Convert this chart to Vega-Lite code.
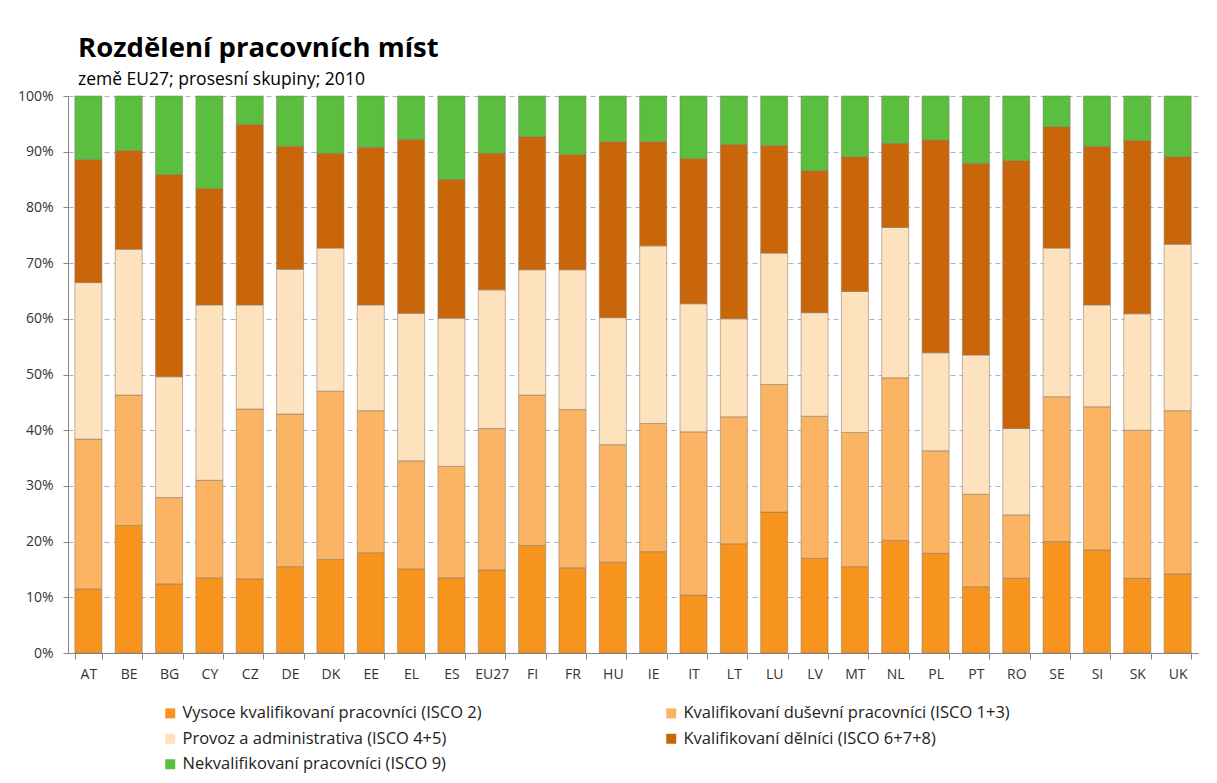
{
  "$schema": "https://vega.github.io/schema/vega-lite/v6.json",
  "width": 1130,
  "height": 557,
  "autosize": "none",
  "padding": {"left": 68, "top": 96, "right": 19, "bottom": 130},
  "background": "white",
  "title": {
    "text": "Rozdělení pracovních míst",
    "subtitle": "země EU27; prosesní skupiny; 2010",
    "anchor": "start",
    "frame": "group",
    "dx": 10,
    "offset": 1,
    "font": "Open Sans",
    "fontSize": 27.5,
    "fontWeight": "bold",
    "color": "#000000",
    "subtitleFont": "Open Sans",
    "subtitleFontSize": 17.5,
    "subtitleColor": "#000000",
    "subtitlePadding": 8
  },
  "data": {
    "values": [
      {"zeme": "AT", "a_isco2": 11.5, "b_isco13": 26.9, "c_isco45": 28.1, "d_isco678": 22.1, "e_isco9": 11.4},
      {"zeme": "BE", "a_isco2": 22.9, "b_isco13": 23.4, "c_isco45": 26.2, "d_isco678": 17.7, "e_isco9": 9.8},
      {"zeme": "BG", "a_isco2": 12.4, "b_isco13": 15.5, "c_isco45": 21.7, "d_isco678": 36.3, "e_isco9": 14.1},
      {"zeme": "CY", "a_isco2": 13.5, "b_isco13": 17.5, "c_isco45": 31.5, "d_isco678": 20.9, "e_isco9": 16.6},
      {"zeme": "CZ", "a_isco2": 13.3, "b_isco13": 30.5, "c_isco45": 18.7, "d_isco678": 32.4, "e_isco9": 5.1},
      {"zeme": "DE", "a_isco2": 15.5, "b_isco13": 27.4, "c_isco45": 26.0, "d_isco678": 22.1, "e_isco9": 9.0},
      {"zeme": "DK", "a_isco2": 16.8, "b_isco13": 30.2, "c_isco45": 25.7, "d_isco678": 17.0, "e_isco9": 10.3},
      {"zeme": "EE", "a_isco2": 18.0, "b_isco13": 25.5, "c_isco45": 19.0, "d_isco678": 28.3, "e_isco9": 9.2},
      {"zeme": "EL", "a_isco2": 15.1, "b_isco13": 19.4, "c_isco45": 26.5, "d_isco678": 31.2, "e_isco9": 7.8},
      {"zeme": "ES", "a_isco2": 13.5, "b_isco13": 20.0, "c_isco45": 26.6, "d_isco678": 24.9, "e_isco9": 15.0},
      {"zeme": "EU27", "a_isco2": 14.9, "b_isco13": 25.4, "c_isco45": 24.9, "d_isco678": 24.5, "e_isco9": 10.3},
      {"zeme": "FI", "a_isco2": 19.3, "b_isco13": 27.0, "c_isco45": 22.5, "d_isco678": 23.9, "e_isco9": 7.3},
      {"zeme": "FR", "a_isco2": 15.3, "b_isco13": 28.4, "c_isco45": 25.1, "d_isco678": 20.7, "e_isco9": 10.5},
      {"zeme": "HU", "a_isco2": 16.3, "b_isco13": 21.1, "c_isco45": 22.8, "d_isco678": 31.6, "e_isco9": 8.2},
      {"zeme": "IE", "a_isco2": 18.2, "b_isco13": 23.0, "c_isco45": 31.9, "d_isco678": 18.7, "e_isco9": 8.2},
      {"zeme": "IT", "a_isco2": 10.4, "b_isco13": 29.3, "c_isco45": 23.0, "d_isco678": 26.1, "e_isco9": 11.2},
      {"zeme": "LT", "a_isco2": 19.6, "b_isco13": 22.8, "c_isco45": 17.6, "d_isco678": 31.3, "e_isco9": 8.7},
      {"zeme": "LU", "a_isco2": 25.3, "b_isco13": 22.9, "c_isco45": 23.6, "d_isco678": 19.3, "e_isco9": 8.9},
      {"zeme": "LV", "a_isco2": 17.0, "b_isco13": 25.5, "c_isco45": 18.6, "d_isco678": 25.5, "e_isco9": 13.4},
      {"zeme": "MT", "a_isco2": 15.5, "b_isco13": 24.1, "c_isco45": 25.3, "d_isco678": 24.2, "e_isco9": 10.9},
      {"zeme": "NL", "a_isco2": 20.2, "b_isco13": 29.2, "c_isco45": 27.0, "d_isco678": 15.1, "e_isco9": 8.5},
      {"zeme": "PL", "a_isco2": 17.9, "b_isco13": 18.4, "c_isco45": 17.6, "d_isco678": 38.2, "e_isco9": 7.9},
      {"zeme": "PT", "a_isco2": 11.9, "b_isco13": 16.6, "c_isco45": 25.0, "d_isco678": 34.4, "e_isco9": 12.1},
      {"zeme": "RO", "a_isco2": 13.4, "b_isco13": 11.4, "c_isco45": 15.5, "d_isco678": 48.1, "e_isco9": 11.6},
      {"zeme": "SE", "a_isco2": 20.0, "b_isco13": 26.0, "c_isco45": 26.7, "d_isco678": 21.8, "e_isco9": 5.5},
      {"zeme": "SI", "a_isco2": 18.5, "b_isco13": 25.7, "c_isco45": 18.3, "d_isco678": 28.5, "e_isco9": 9.0},
      {"zeme": "SK", "a_isco2": 13.4, "b_isco13": 26.6, "c_isco45": 20.9, "d_isco678": 31.1, "e_isco9": 8.0},
      {"zeme": "UK", "a_isco2": 14.2, "b_isco13": 29.3, "c_isco45": 29.9, "d_isco678": 15.7, "e_isco9": 10.9}
    ]
  },
  "transform": [
    {"fold": ["a_isco2", "b_isco13", "c_isco45", "d_isco678", "e_isco9"], "as": ["skupina", "podil"]}
  ],
  "mark": {"type": "bar", "stroke": "#8a7a6a", "strokeWidth": 1, "strokeOpacity": 0.55},
  "encoding": {
    "x": {
      "field": "zeme",
      "type": "nominal",
      "sort": null,
      "scale": {"paddingInner": 0.33, "paddingOuter": 0.17},
      "axis": {
        "title": null,
        "labelAngle": 0,
        "labelFont": "Open Sans",
        "labelFontSize": 14,
        "labelColor": "#333333",
        "labelPadding": 8,
        "tickBand": "extent",
        "tickSize": 6,
        "tickColor": "#868686",
        "domainColor": "#868686",
        "grid": false
      }
    },
    "y": {
      "field": "podil",
      "type": "quantitative",
      "stack": "normalize",
      "scale": {"domain": [0, 1], "nice": false},
      "axis": {
        "title": null,
        "values": [0, 0.1, 0.2, 0.3, 0.4, 0.5, 0.6, 0.7, 0.8, 0.9, 1],
        "format": ".0%",
        "labelFont": "Open Sans",
        "labelFontSize": 14,
        "labelColor": "#333333",
        "labelPadding": 10,
        "tickSize": 5,
        "tickColor": "#868686",
        "domainColor": "#868686",
        "grid": true,
        "gridColor": "#9db5dc",
        "gridDash": [5, 4],
        "gridWidth": 1
      }
    },
    "color": {
      "field": "skupina",
      "type": "nominal",
      "scale": {
        "domain": ["a_isco2", "b_isco13", "c_isco45", "d_isco678", "e_isco9"],
        "range": ["#f7941e", "#fbb463", "#fee2bd", "#c9660a", "#5abf3f"]
      },
      "legend": {
        "title": null,
        "orient": "none",
        "legendX": 94,
        "legendY": 609,
        "values": ["a_isco2", "c_isco45", "e_isco9", "b_isco13", "d_isco678"],
        "columns": 2,
        "columnPadding": 181,
        "rowPadding": 8.5,
        "padding": 0,
        "symbolType": "square",
        "symbolSize": 100,
        "symbolStrokeWidth": 0,
        "labelFont": "Open Sans",
        "labelFontSize": 16.5,
        "labelColor": "#222222",
        "labelOffset": 4,
        "labelLimit": 600,
        "labelExpr": "{'a_isco2': 'Vysoce kvalifikovaní pracovníci (ISCO 2)', 'b_isco13': 'Kvalifikovaní duševní pracovníci (ISCO 1+3)', 'c_isco45': 'Provoz a administrativa (ISCO 4+5)', 'd_isco678': 'Kvalifikovaní dělníci (ISCO 6+7+8)', 'e_isco9': 'Nekvalifikovaní pracovníci (ISCO 9)'}[datum.value]"
      }
    },
    "order": {"field": "skupina", "sort": "ascending"}
  },
  "config": {
    "view": {"stroke": null}
  }
}
